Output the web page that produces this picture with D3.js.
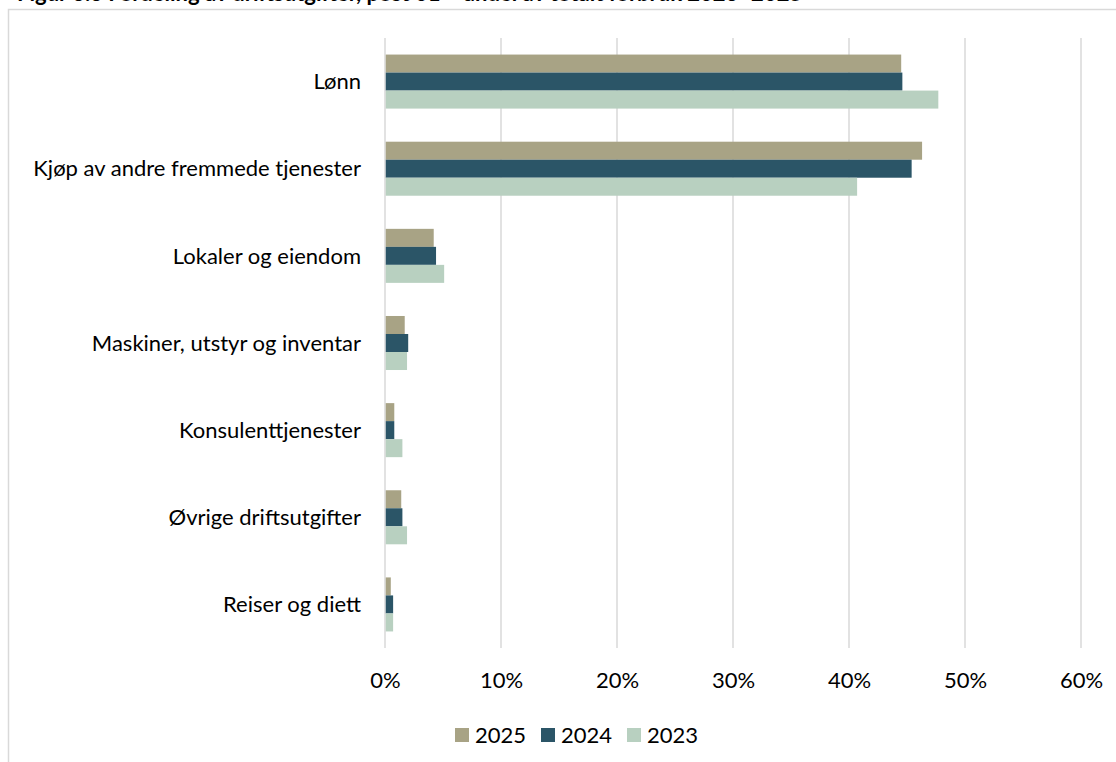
<!DOCTYPE html>
<html>
<head>
<meta charset="utf-8">
<script src="https://cdn.jsdelivr.net/npm/d3@7"></script>
<style>
  html, body { margin: 0; padding: 0; background: #fff; }
  svg { display: block; }
  text { font-family: Lato, "Open Sans", sans-serif; fill: #000; }
</style>
</head>
<body>
<svg id="chart" width="1116" height="762"></svg>
<script>
const title = "Figur 3.3 Fordeling av driftsutgifter, post 01 – andel av totalt forbruk 2023–2025";
const categories = [
  "Lønn",
  "Kjøp av andre fremmede tjenester",
  "Lokaler og eiendom",
  "Maskiner, utstyr og inventar",
  "Konsulenttjenester",
  "Øvrige driftsutgifter",
  "Reiser og diett"
];
const seriesNames = ["2025", "2024", "2023"];
const values2025 = [0.445, 0.463, 0.042, 0.017, 0.008, 0.014, 0.005];
const values2024 = [0.446, 0.454, 0.044, 0.020, 0.008, 0.015, 0.007];
const values2023 = [0.477, 0.407, 0.051, 0.019, 0.015, 0.019, 0.007];
const tickValues = [0, 0.1, 0.2, 0.3, 0.4, 0.5, 0.6];
const colors = ["#A8A385", "#2B5567", "#B8D0C0"];

const seriesValues = [values2025, values2024, values2023];
const rows = categories.map((c, i) => ({
  cat: c,
  vals: seriesNames.map((s, j) => ({ series: s, value: seriesValues[j][i], color: colors[j] }))
}));

const svg = d3.select("#chart");
const FS = 22;

// outer frame
svg.append("rect")
  .attr("x", 8.5).attr("y", 9.5).attr("width", 1200).attr("height", 800)
  .attr("fill", "none").attr("stroke", "#d9d9d9").attr("stroke-width", 1.5);

// title (mostly clipped at top)
svg.append("text")
  .attr("x", 17).attr("y", 0.5)
  .attr("font-size", 22).attr("font-weight", "bold")
  .text(title);

const x = d3.scaleLinear().domain([0, 0.6]).range([385, 1081]);
const y = d3.scaleBand().domain(categories).range([38, 648])
  .paddingInner(0.38).paddingOuter(0.19);
const ySub = d3.scaleBand().domain(seriesNames).range([0, y.bandwidth()]);

// gridlines
svg.append("g").selectAll("line").data(tickValues).join("line")
  .attr("x1", d => x(d)).attr("x2", d => x(d))
  .attr("y1", 38).attr("y2", 648)
  .attr("stroke", "#d9d9d9").attr("stroke-width", 1.5);

// bars
const groups = svg.append("g").selectAll("g").data(rows).join("g")
  .attr("transform", d => `translate(0,${y(d.cat)})`);
groups.selectAll("rect").data(d => d.vals).join("rect")
  .attr("x", x(0) + 0.75)
  .attr("y", d => ySub(d.series))
  .attr("width", d => Math.max(0, x(d.value) - x(0) - 0.75))
  .attr("height", ySub.bandwidth())
  .attr("fill", d => d.color);

// category labels
svg.append("g").selectAll("text").data(categories).join("text")
  .attr("x", 361)
  .attr("y", d => y(d) + y.bandwidth() / 2)
  .attr("dy", "0.35em")
  .attr("text-anchor", "end")
  .attr("font-size", FS)
  .text(d => d);

// x axis tick labels
const fmt = d3.format(".0%");
const xAxis = d3.axisBottom(x).tickValues(tickValues).tickFormat(fmt).tickSize(0).tickPadding(0);
const axG = svg.append("g").attr("transform", "translate(0,672)").call(xAxis);
axG.select(".domain").remove();
axG.selectAll("text")
  .attr("font-size", FS)
  .attr("font-family", "Lato, 'Open Sans', sans-serif")
  .attr("fill", "#000");

// legend
const legendX = [455, 541, 627];
const lg = svg.append("g").selectAll("g").data(seriesNames).join("g")
  .attr("transform", (d, i) => `translate(${legendX[i]},728)`);
lg.append("rect").attr("width", 14).attr("height", 14)
  .attr("fill", (d, i) => colors[i]);
lg.append("text").attr("x", 20).attr("y", 7).attr("dy", "0.35em")
  .attr("font-size", FS).text(d => d);
</script>
</body>
</html>
